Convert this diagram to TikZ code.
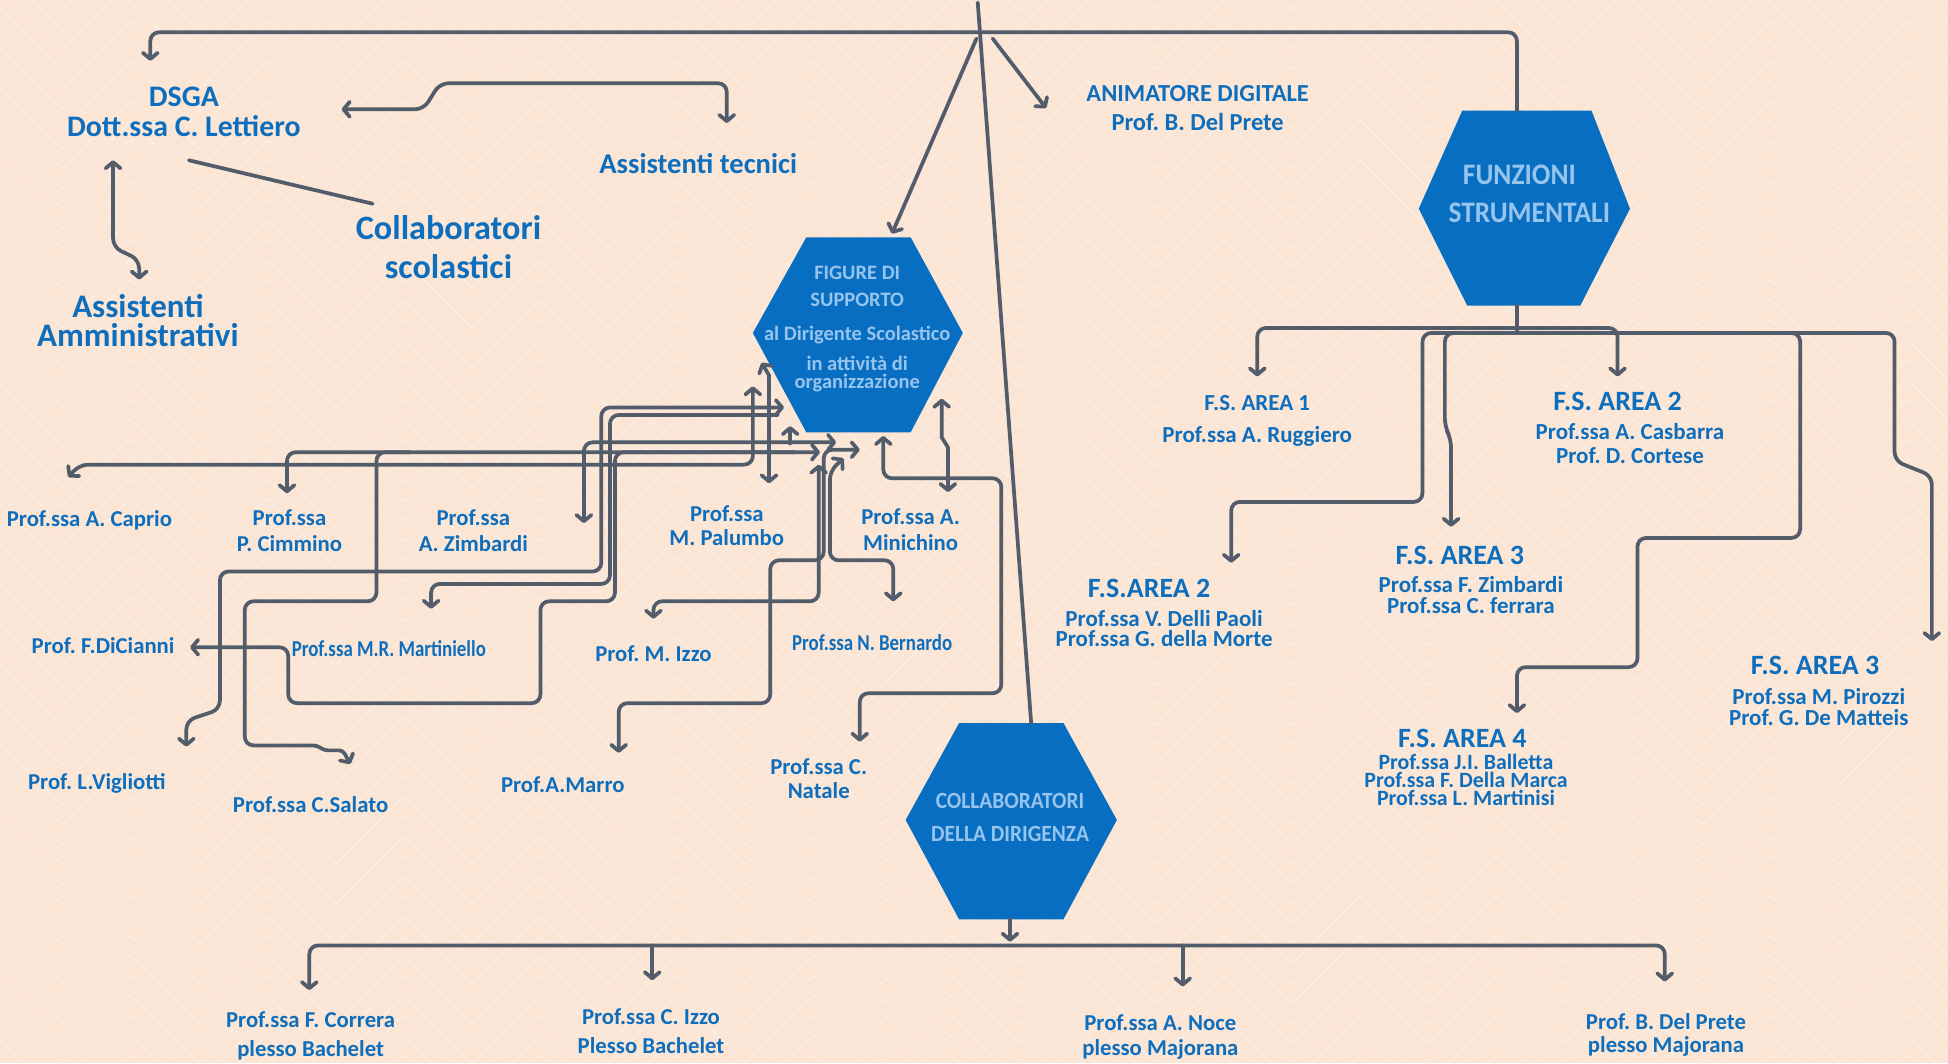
\documentclass[tikz,border=0pt]{standalone}
\usepackage{fontspec}
\setmainfont{Carlito}
\newfontfamily\condfont[FakeStretch=0.83]{Carlito}
\newfontfamily\hexcond[FakeStretch=0.92]{Carlito}
\usetikzlibrary{arrows.meta}
\definecolor{bgpeach}{RGB}{251,229,212}
\definecolor{lblblue}{RGB}{14,110,190}
\definecolor{hexblue}{RGB}{8,110,194}
\definecolor{hextext}{RGB}{150,196,236}
\definecolor{conn}{RGB}{82,92,107}
\newcommand\fsz[2]{\fontsize{#1pt}{#2pt}\selectfont}
\frenchspacing
\begin{document}
\frenchspacing
\begin{tikzpicture}[x=1pt,y=-1pt,
  lbl/.style={text=lblblue, inner sep=0pt, align=center, font=\bfseries\fsz{18.3}{20}},
  hextxt/.style={text=hextext, inner sep=0pt, align=center},
  wire/.style={draw=conn, line width=3pt, rounded corners=7pt, line cap=round, line join=round},
  bgline/.style={draw=white, opacity=0.3, line width=1.3pt},
  >={Straight Barb[length=5pt,width=12pt,round]}
]
\useasboundingbox (0,0) rectangle (1568,856);
\fill[bgpeach] (0,0) rectangle (1568,856);
\begin{scope}
\clip (0,0) rectangle (1568,856);
\foreach \r in {0,...,62} {
  \draw[bgline] (-60,{-40+\r*16}) \foreach \k in {1,...,16} { -- ++(55,-55) -- ++(55,55) };
}
\end{scope}

% hexagons
\fill[hexblue] (649,191) -- (733,191) -- (775,268) -- (733,348) -- (649,348) -- (606,268) -- cycle;
\fill[hexblue] (1177,89) -- (1281,89) -- (1312,168) -- (1272,246) -- (1181,246) -- (1142,168) -- cycle;
\fill[hexblue] (772,582) -- (856,582) -- (899,660) -- (856,740) -- (772,740) -- (729,660) -- cycle;

\coordinate (figtop) at (718,188);
\coordinate (funztop) at (1221,89);
\coordinate (funzbot) at (1221,246);
\coordinate (colltop) at (830,582);
\coordinate (collbot) at (813,740);

% top connectors
\draw[wire, rounded corners=0pt] (787,2) -- (colltop);
\draw[wire,->] (funztop) -- (1221,26) -- (121,26) -- (121,49);
\draw[wire,->] (786,31) -- (figtop);
\draw[wire,->] (799,31) -- (842,87);

% DSGA group
\draw[wire,<->] (275,88) -- (341,88) -- (354,67) -- (585,67) -- (585,99);
\draw[wire, rounded corners=0pt] (152,129) -- (300,164);
\draw[wire,<->] (91,129) -- (91,199) -- (112,209) -- (112,225);

% collaboratori della dirigenza
\draw[wire,->] (collbot) -- (813,758);
\draw[wire,->] (813,761) -- (249,761) -- (249,797);
\draw[wire,->] (813,761) -- (1340,761) -- (1340,790);
\draw[wire,->] (525,761) -- (525,789);
\draw[wire,->] (952,761) -- (952,794);

% funzioni strumentali
\draw[wire] (funzbot) -- (1221,267);
\draw[wire,->] (1221,264) -- (1012,264) -- (1012,303);
\draw[wire,->] (1221,264) -- (1302,264) -- (1302,303);
\draw[wire,->] (1221,268) -- (1145,268) -- (1145,404) -- (991,404) -- (991,453);
\draw[wire,->] (1221,268) -- (1163,268) -- (1163,344) -- (1168,353) -- (1168,424);
\draw[wire,->] (1221,268) -- (1449,268) -- (1449,433) -- (1318,433) -- (1318,537) -- (1221,537) -- (1221,574);
\draw[wire,->] (1221,268) -- (1525,268) -- (1525,371) -- (1555,383) -- (1555,516);

% figure di supporto tangle
\draw[wire,<->] (606,311) -- (606,374) -- (64,374) -- (55,384);
\draw[wire,<->] (231,397) -- (231,364) -- (660,364);
\draw[wire,->] (330,364) -- (303,364) -- (303,484) -- (197,484) -- (197,600) [rounded corners=3pt] -- (255,600) -- (261,604) -- (276,604) -- (282,615);
\draw[wire,->] (640,364) -- (495,364) -- (495,484) -- (435,484) -- (435,566) -- (232,566) -- (232,521) -- (153,521);
\draw[wire,<->] (631,328) -- (484,328) -- (484,460) -- (177,460) -- (177,571) -- (150,580) -- (150,601);
\draw[wire,->] (626,334) -- (491,334) -- (491,470) -- (347,470) -- (347,490);
\draw[wire,<->] (470,421) -- (470,356) -- (673,356);
\draw[wire,->] (636,357) -- (636,343);
\draw[wire,<->, rounded corners=0pt] (613,292) -- (619,302) -- (619,389);
\draw[wire,<->] (659,374) -- (659,484) -- (526,484) -- (526,498);
\draw[wire,<->] (692,362) -- (663,362) -- (663,451) -- (620,451) -- (620,566) -- (498,566) -- (498,606);
\draw[wire,<->] (679,369) -- (668,379) -- (668,451) -- (719,451) -- (719,484);
\draw[wire,<->] (711,351) -- (711,385) -- (806,385) -- (806,558) -- (692,558) -- (692,597);
\draw[wire,<->, rounded corners=0pt] (758,321) -- (758,352) -- (763,360) -- (763,396);

% hexagon texts
\node[hextxt, font=\bfseries\fsz{16.5}{17}] (figh) at (690,265) {FIGURE DI\\[5pt]SUPPORTO\\[10pt]al Dirigente Scolastico\\[7pt]in attività di\\[-2pt]organizzazione};
\node[hextxt, font=\hexcond\bfseries\fsz{24}{30}] (funz) at (1231,156) {FUNZIONI\hspace*{16pt}\\STRUMENTALI};
\node[hextxt, font=\hexcond\bfseries\fsz{18.7}{26}] (collh) at (813,658) {COLLABORATORI\\DELLA DIRIGENZA};

% top-left labels
\node[lbl, font=\bfseries\fsz{24}{24}] (dsga) at (148,90) {DSGA\\Dott.ssa C. Lettiero};
\node[lbl, font=\bfseries\fsz{23}{25}] (asstec) at (562,132) {Assistenti tecnici};
\node[lbl, font=\bfseries\fsz{27.5}{31}] (collsc) at (361,199) {Collaboratori\\scolastici};
\node[lbl, font=\bfseries\fsz{26.5}{24}] (assamm) at (111,258) {Assistenti\\Amministrativi};
\node[lbl, font=\bfseries\fsz{19.7}{24}] (anim) at (964,87) {ANIMATORE DIGITALE\\Prof. B. Del Prete};

% funzioni strumentali labels
\node[lbl, font=\bfseries\fsz{18.5}{25.5}] (fs1) at (1012,339) {F.S. AREA 1\\Prof.ssa A. Ruggiero};
\node[lbl, font=\bfseries\fsz{22.5}{24}] (fs2ah) at (1302,323) {F.S. AREA 2};
\node[lbl, font=\bfseries\fsz{18.5}{20}] (fs2an) at (1312,357) {Prof.ssa A. Casbarra\\Prof. D. Cortese};
\node[lbl, font=\bfseries\fsz{22.5}{24}] (fs2bh) at (925,474) {F.S.AREA 2};
\node[lbl, font=\bfseries\fsz{18.5}{16.5}] (fs2bn) at (937,506) {Prof.ssa V. Delli Paoli\\Prof.ssa G. della Morte};
\node[lbl, font=\bfseries\fsz{22.5}{24}] (fs3ah) at (1175,447) {F.S. AREA 3};
\node[lbl, font=\bfseries\fsz{18.5}{17}] (fs3an) at (1184,479) {Prof.ssa F. Zimbardi\\Prof.ssa C. ferrara};
\node[lbl, font=\bfseries\fsz{22.5}{24}] (fs3bh) at (1461,536) {F.S. AREA 3};
\node[lbl, font=\bfseries\fsz{18.5}{16.5}] (fs3bn) at (1464,569) {Prof.ssa M. Pirozzi\\Prof. G. De Matteis};
\node[lbl, font=\bfseries\fsz{22.5}{24}] (fs4h) at (1177,594) {F.S. AREA 4};
\node[lbl, font=\bfseries\fsz{17.6}{14.6}] (fs4n) at (1180,628) {Prof.ssa J.I. Balletta\\Prof.ssa F. Della Marca\\Prof.ssa L. Martinisi};

% figure di supporto labels
\node[lbl] (caprio) at (72,419) {Prof.ssa A. Caprio};
\node[lbl, font=\bfseries\fsz{18.3}{21}] (cimmino) at (233,427) {Prof.ssa\\P. Cimmino};
\node[lbl, font=\bfseries\fsz{18.3}{21}] (zimbardi) at (381,427) {Prof.ssa\\A. Zimbardi};
\node[lbl, font=\bfseries\fsz{18.3}{19}] (palumbo) at (585,423) {Prof.ssa\\M. Palumbo};
\node[lbl, font=\bfseries\fsz{18.3}{21}] (minichino) at (733,426) {Prof.ssa A.\\Minichino};
\node[lbl] (dicianni) at (83,520) {Prof. F.DiCianni};
\node[lbl, font=\condfont\bfseries\fsz{18.3}{20}] (martiniello) at (313,522) {Prof.ssa M.R. Martiniello};
\node[lbl] (mizzo) at (526,526) {Prof. M. Izzo};
\node[lbl, font=\condfont\bfseries\fsz{18.3}{20}] (bernardo) at (702,517) {Prof.ssa N. Bernardo};
\node[lbl] (vigliotti) at (78,631) {Prof. L.Vigliotti};
\node[lbl] (salato) at (250,648) {Prof.ssa C.Salato};
\node[lbl] (marro) at (453,632) {Prof.A.Marro};
\node[lbl, font=\bfseries\fsz{18.3}{19}] (natale) at (659,627) {Prof.ssa C.\\Natale};

% collaboratori della dirigenza labels
\node[lbl, font=\bfseries\fsz{18.3}{23}] (correra) at (250,834) {Prof.ssa F. Correra\\plesso Bachelet};
\node[lbl, font=\bfseries\fsz{18.3}{24}] (cizzo) at (524,830) {Prof.ssa C. Izzo\\Plesso Bachelet};
\node[lbl, font=\bfseries\fsz{18.3}{20}] (noce) at (934,835) {Prof.ssa A. Noce\\plesso Majorana};
\node[lbl, font=\bfseries\fsz{18.3}{19}] (delprete) at (1341,833) {Prof. B. Del Prete\\plesso Majorana};
\end{tikzpicture}
\end{document}
